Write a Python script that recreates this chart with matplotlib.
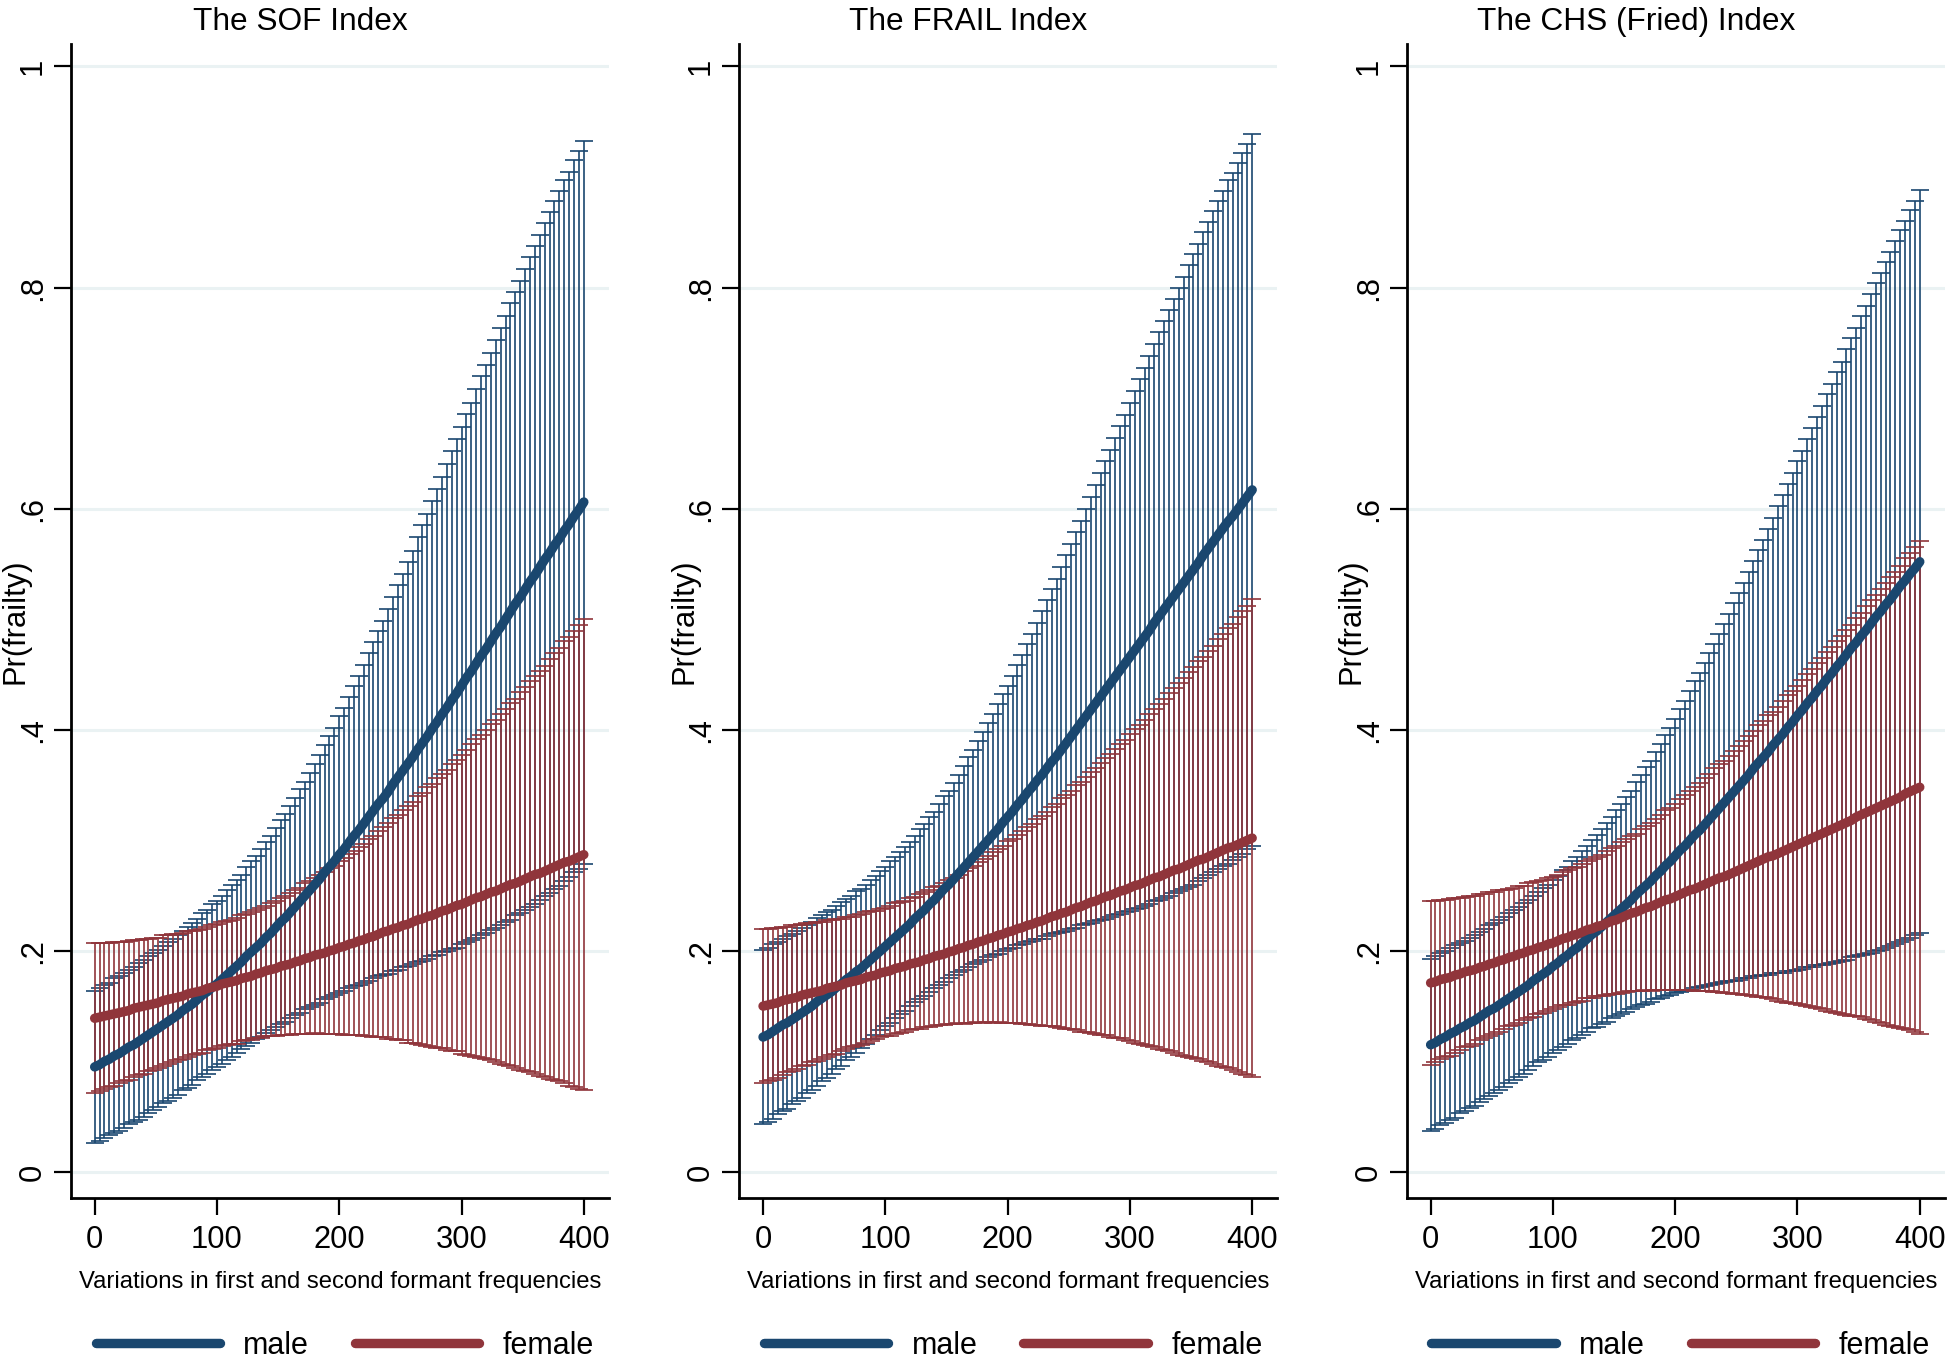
import numpy as np
import matplotlib
matplotlib.use("Agg")
import matplotlib.pyplot as plt
from matplotlib.lines import Line2D

plt.rcParams["font.family"] = ["Liberation Sans", "DejaVu Sans"]

# x grid of the margins (0 to 400 by 4)
x = np.arange(0, 401, 4)

panel_titles = ["The SOF Index", "The FRAIL Index", "The CHS (Fried) Index"]
xticks = [0, 100, 200, 300, 400]
yticks = [0, 0.2, 0.4, 0.6, 0.8, 1]
ytick_labels = ["0", ".2", ".4", ".6", ".8", "1"]
legend_labels = ["male", "female"]

# predicted Pr(frailty) and half width of the 95% CI
sof_male = [
    0.095, 0.097, 0.100, 0.102, 0.105, 0.107, 0.110, 0.113, 0.115, 0.118,
    0.121, 0.124, 0.127, 0.130, 0.133, 0.136, 0.139, 0.142, 0.146, 0.149,
    0.152, 0.156, 0.160, 0.163, 0.167, 0.170, 0.174, 0.178, 0.182, 0.186,
    0.190, 0.195, 0.199, 0.203, 0.207, 0.212, 0.216, 0.221, 0.226, 0.230,
    0.235, 0.240, 0.245, 0.250, 0.255, 0.260, 0.265, 0.271, 0.276, 0.281,
    0.287, 0.292, 0.298, 0.304, 0.309, 0.315, 0.321, 0.327, 0.333, 0.338,
    0.344, 0.351, 0.357, 0.363, 0.369, 0.375, 0.382, 0.388, 0.394, 0.401,
    0.407, 0.414, 0.420, 0.427, 0.433, 0.440, 0.447, 0.453, 0.460, 0.467,
    0.473, 0.480, 0.487, 0.493, 0.500, 0.507, 0.514, 0.520, 0.527, 0.534,
    0.540, 0.547, 0.554, 0.560, 0.567, 0.573, 0.580, 0.586, 0.593, 0.599,
    0.606]
sof_male_ci = [
    0.069, 0.069, 0.069, 0.069, 0.070, 0.070, 0.070, 0.070, 0.070, 0.071,
    0.071, 0.071, 0.071, 0.071, 0.071, 0.072, 0.072, 0.072, 0.072, 0.073,
    0.073, 0.073, 0.074, 0.074, 0.075, 0.075, 0.076, 0.077, 0.078, 0.078,
    0.079, 0.081, 0.082, 0.083, 0.085, 0.086, 0.088, 0.090, 0.092, 0.094,
    0.096, 0.098, 0.101, 0.103, 0.106, 0.109, 0.112, 0.115, 0.118, 0.121,
    0.125, 0.128, 0.132, 0.136, 0.140, 0.144, 0.148, 0.152, 0.156, 0.160,
    0.165, 0.169, 0.174, 0.178, 0.183, 0.187, 0.192, 0.197, 0.201, 0.206,
    0.211, 0.215, 0.220, 0.225, 0.230, 0.234, 0.239, 0.243, 0.248, 0.253,
    0.257, 0.261, 0.266, 0.270, 0.274, 0.279, 0.282, 0.286, 0.290, 0.294,
    0.298, 0.301, 0.304, 0.308, 0.311, 0.314, 0.317, 0.319, 0.322, 0.325,
    0.327]
sof_female = [
    0.139, 0.140, 0.141, 0.142, 0.143, 0.144, 0.145, 0.146, 0.148, 0.149,
    0.150, 0.151, 0.152, 0.153, 0.155, 0.156, 0.157, 0.158, 0.159, 0.161,
    0.162, 0.163, 0.164, 0.166, 0.167, 0.168, 0.170, 0.171, 0.172, 0.173,
    0.175, 0.176, 0.177, 0.179, 0.180, 0.182, 0.183, 0.184, 0.186, 0.187,
    0.188, 0.190, 0.191, 0.193, 0.194, 0.196, 0.197, 0.198, 0.200, 0.201,
    0.203, 0.204, 0.206, 0.207, 0.209, 0.210, 0.212, 0.213, 0.215, 0.217,
    0.218, 0.220, 0.221, 0.223, 0.224, 0.226, 0.228, 0.229, 0.231, 0.232,
    0.234, 0.236, 0.237, 0.239, 0.241, 0.242, 0.244, 0.246, 0.248, 0.249,
    0.251, 0.253, 0.254, 0.256, 0.258, 0.260, 0.261, 0.263, 0.265, 0.267,
    0.269, 0.270, 0.272, 0.274, 0.276, 0.278, 0.280, 0.281, 0.283, 0.285,
    0.287]
sof_female_ci = [
    0.068, 0.067, 0.066, 0.065, 0.065, 0.064, 0.063, 0.063, 0.062, 0.061,
    0.061, 0.060, 0.060, 0.059, 0.059, 0.058, 0.058, 0.057, 0.057, 0.057,
    0.056, 0.056, 0.056, 0.056, 0.056, 0.056, 0.056, 0.056, 0.056, 0.057,
    0.057, 0.057, 0.058, 0.058, 0.059, 0.059, 0.060, 0.061, 0.062, 0.063,
    0.064, 0.065, 0.066, 0.068, 0.069, 0.070, 0.072, 0.073, 0.075, 0.076,
    0.078, 0.080, 0.082, 0.083, 0.085, 0.087, 0.089, 0.091, 0.093, 0.095,
    0.098, 0.100, 0.102, 0.104, 0.107, 0.109, 0.112, 0.114, 0.117, 0.119,
    0.122, 0.124, 0.127, 0.130, 0.132, 0.135, 0.138, 0.141, 0.144, 0.146,
    0.149, 0.152, 0.155, 0.158, 0.161, 0.164, 0.167, 0.171, 0.174, 0.177,
    0.180, 0.183, 0.186, 0.190, 0.193, 0.196, 0.200, 0.203, 0.206, 0.210,
    0.213]

frail_male = [
    0.122, 0.124, 0.127, 0.130, 0.133, 0.135, 0.138, 0.141, 0.144, 0.147,
    0.150, 0.154, 0.157, 0.160, 0.163, 0.167, 0.170, 0.174, 0.177, 0.181,
    0.184, 0.188, 0.192, 0.196, 0.200, 0.204, 0.208, 0.212, 0.216, 0.220,
    0.224, 0.229, 0.233, 0.237, 0.242, 0.246, 0.251, 0.256, 0.260, 0.265,
    0.270, 0.275, 0.280, 0.285, 0.290, 0.295, 0.300, 0.305, 0.310, 0.316,
    0.321, 0.326, 0.332, 0.337, 0.343, 0.348, 0.354, 0.359, 0.365, 0.371,
    0.376, 0.382, 0.388, 0.394, 0.400, 0.406, 0.412, 0.418, 0.424, 0.430,
    0.436, 0.442, 0.448, 0.454, 0.460, 0.466, 0.472, 0.478, 0.484, 0.490,
    0.497, 0.503, 0.509, 0.515, 0.521, 0.527, 0.533, 0.539, 0.545, 0.551,
    0.558, 0.564, 0.570, 0.576, 0.582, 0.588, 0.593, 0.599, 0.605, 0.611,
    0.617]
frail_male_ci = [
    0.079, 0.079, 0.079, 0.078, 0.078, 0.078, 0.077, 0.077, 0.077, 0.076,
    0.076, 0.076, 0.075, 0.075, 0.074, 0.074, 0.074, 0.073, 0.073, 0.073,
    0.072, 0.072, 0.072, 0.072, 0.072, 0.072, 0.073, 0.073, 0.073, 0.074,
    0.074, 0.075, 0.077, 0.078, 0.079, 0.080, 0.082, 0.084, 0.085, 0.087,
    0.089, 0.092, 0.095, 0.097, 0.100, 0.103, 0.106, 0.109, 0.113, 0.116,
    0.119, 0.123, 0.127, 0.131, 0.135, 0.139, 0.143, 0.148, 0.152, 0.156,
    0.160, 0.165, 0.170, 0.174, 0.179, 0.183, 0.188, 0.193, 0.197, 0.202,
    0.207, 0.211, 0.216, 0.221, 0.225, 0.230, 0.234, 0.239, 0.243, 0.248,
    0.252, 0.257, 0.261, 0.265, 0.269, 0.273, 0.277, 0.281, 0.285, 0.288,
    0.292, 0.295, 0.299, 0.302, 0.305, 0.309, 0.311, 0.314, 0.317, 0.319,
    0.322]
frail_female = [
    0.150, 0.151, 0.152, 0.153, 0.155, 0.156, 0.157, 0.158, 0.160, 0.161,
    0.162, 0.163, 0.164, 0.166, 0.167, 0.168, 0.169, 0.171, 0.172, 0.173,
    0.174, 0.176, 0.177, 0.178, 0.180, 0.181, 0.182, 0.184, 0.185, 0.186,
    0.188, 0.189, 0.190, 0.192, 0.193, 0.195, 0.196, 0.197, 0.199, 0.200,
    0.202, 0.203, 0.205, 0.206, 0.208, 0.209, 0.211, 0.212, 0.214, 0.215,
    0.217, 0.218, 0.220, 0.221, 0.223, 0.224, 0.226, 0.227, 0.229, 0.231,
    0.232, 0.234, 0.235, 0.237, 0.239, 0.240, 0.242, 0.244, 0.245, 0.247,
    0.249, 0.250, 0.252, 0.254, 0.255, 0.257, 0.259, 0.260, 0.262, 0.264,
    0.266, 0.267, 0.269, 0.271, 0.273, 0.274, 0.276, 0.278, 0.280, 0.282,
    0.283, 0.285, 0.287, 0.289, 0.291, 0.293, 0.294, 0.296, 0.298, 0.300,
    0.302]
frail_female_ci = [
    0.070, 0.069, 0.069, 0.068, 0.067, 0.066, 0.066, 0.065, 0.064, 0.064,
    0.063, 0.063, 0.062, 0.062, 0.061, 0.061, 0.060, 0.060, 0.059, 0.059,
    0.059, 0.059, 0.059, 0.058, 0.058, 0.058, 0.059, 0.059, 0.059, 0.059,
    0.060, 0.060, 0.061, 0.061, 0.062, 0.063, 0.063, 0.064, 0.065, 0.066,
    0.067, 0.069, 0.070, 0.071, 0.072, 0.074, 0.075, 0.077, 0.078, 0.080,
    0.082, 0.083, 0.085, 0.087, 0.089, 0.091, 0.093, 0.095, 0.097, 0.099,
    0.101, 0.104, 0.106, 0.108, 0.111, 0.113, 0.115, 0.118, 0.120, 0.123,
    0.125, 0.128, 0.131, 0.133, 0.136, 0.139, 0.142, 0.144, 0.147, 0.150,
    0.153, 0.156, 0.159, 0.162, 0.165, 0.168, 0.171, 0.174, 0.177, 0.180,
    0.183, 0.186, 0.189, 0.193, 0.196, 0.199, 0.202, 0.206, 0.209, 0.212,
    0.216]

chs_male = [
    0.115, 0.117, 0.120, 0.122, 0.125, 0.127, 0.130, 0.132, 0.135, 0.137,
    0.140, 0.143, 0.146, 0.148, 0.151, 0.154, 0.157, 0.160, 0.163, 0.166,
    0.169, 0.173, 0.176, 0.179, 0.182, 0.186, 0.189, 0.193, 0.196, 0.200,
    0.203, 0.207, 0.211, 0.215, 0.218, 0.222, 0.226, 0.230, 0.234, 0.238,
    0.242, 0.246, 0.251, 0.255, 0.259, 0.263, 0.268, 0.272, 0.277, 0.281,
    0.286, 0.291, 0.295, 0.300, 0.305, 0.309, 0.314, 0.319, 0.324, 0.329,
    0.334, 0.339, 0.344, 0.349, 0.354, 0.359, 0.365, 0.370, 0.375, 0.380,
    0.386, 0.391, 0.396, 0.402, 0.407, 0.413, 0.418, 0.424, 0.429, 0.435,
    0.440, 0.446, 0.451, 0.457, 0.462, 0.468, 0.474, 0.479, 0.485, 0.490,
    0.496, 0.502, 0.507, 0.513, 0.518, 0.524, 0.530, 0.535, 0.541, 0.546,
    0.552]
chs_male_ci = [
    0.078, 0.078, 0.078, 0.078, 0.078, 0.078, 0.077, 0.077, 0.077, 0.077,
    0.077, 0.077, 0.077, 0.077, 0.077, 0.077, 0.077, 0.077, 0.077, 0.077,
    0.077, 0.077, 0.077, 0.078, 0.078, 0.078, 0.079, 0.080, 0.080, 0.081,
    0.082, 0.083, 0.084, 0.085, 0.087, 0.088, 0.090, 0.091, 0.093, 0.095,
    0.097, 0.099, 0.102, 0.104, 0.107, 0.109, 0.112, 0.115, 0.118, 0.121,
    0.124, 0.128, 0.131, 0.135, 0.139, 0.142, 0.146, 0.150, 0.154, 0.158,
    0.162, 0.166, 0.171, 0.175, 0.179, 0.184, 0.188, 0.193, 0.197, 0.202,
    0.206, 0.211, 0.216, 0.220, 0.225, 0.230, 0.234, 0.239, 0.244, 0.248,
    0.253, 0.258, 0.262, 0.267, 0.271, 0.276, 0.280, 0.284, 0.289, 0.293,
    0.298, 0.302, 0.306, 0.310, 0.314, 0.318, 0.322, 0.325, 0.329, 0.332,
    0.336]
chs_female = [
    0.171, 0.172, 0.174, 0.175, 0.176, 0.178, 0.179, 0.181, 0.182, 0.183,
    0.185, 0.186, 0.188, 0.189, 0.191, 0.192, 0.194, 0.195, 0.197, 0.198,
    0.200, 0.201, 0.203, 0.204, 0.206, 0.207, 0.209, 0.211, 0.212, 0.214,
    0.215, 0.217, 0.219, 0.220, 0.222, 0.223, 0.225, 0.227, 0.228, 0.230,
    0.232, 0.234, 0.235, 0.237, 0.239, 0.240, 0.242, 0.244, 0.246, 0.247,
    0.249, 0.251, 0.253, 0.255, 0.256, 0.258, 0.260, 0.262, 0.264, 0.266,
    0.267, 0.269, 0.271, 0.273, 0.275, 0.277, 0.279, 0.281, 0.283, 0.285,
    0.286, 0.288, 0.290, 0.292, 0.294, 0.296, 0.298, 0.300, 0.302, 0.304,
    0.306, 0.308, 0.310, 0.312, 0.314, 0.316, 0.318, 0.321, 0.323, 0.325,
    0.327, 0.329, 0.331, 0.333, 0.335, 0.337, 0.339, 0.342, 0.344, 0.346,
    0.348]
chs_female_ci = [
    0.074, 0.073, 0.072, 0.071, 0.071, 0.070, 0.069, 0.068, 0.068, 0.067,
    0.066, 0.065, 0.065, 0.064, 0.064, 0.063, 0.062, 0.062, 0.062, 0.061,
    0.061, 0.061, 0.060, 0.060, 0.060, 0.060, 0.060, 0.060, 0.061, 0.061,
    0.061, 0.062, 0.062, 0.063, 0.063, 0.064, 0.065, 0.066, 0.067, 0.068,
    0.069, 0.070, 0.071, 0.073, 0.074, 0.076, 0.077, 0.079, 0.081, 0.082,
    0.084, 0.086, 0.088, 0.090, 0.092, 0.094, 0.096, 0.098, 0.101, 0.103,
    0.105, 0.107, 0.110, 0.112, 0.115, 0.117, 0.120, 0.123, 0.125, 0.128,
    0.130, 0.133, 0.136, 0.139, 0.141, 0.144, 0.147, 0.150, 0.153, 0.156,
    0.159, 0.162, 0.165, 0.168, 0.171, 0.174, 0.177, 0.180, 0.183, 0.187,
    0.190, 0.193, 0.196, 0.200, 0.203, 0.206, 0.209, 0.213, 0.216, 0.219,
    0.223]

panels = [
    (sof_male, sof_male_ci, sof_female, sof_female_ci),
    (frail_male, frail_male_ci, frail_female, frail_female_ci),
    (chs_male, chs_male_ci, chs_female, chs_female_ci),
]

navy = "#1a476f"
maroon = "#90353b"
grid_col = "#eaf2f3"

fig = plt.figure(figsize=(9.76, 6.82), dpi=200)
lefts = [0.0364, 0.3788, 0.7208]

for i, (m, mci, f, fci) in enumerate(panels):
    ax = fig.add_axes([lefts[i], 0.1217, 0.2756, 0.846])

    ax.errorbar(x, m, yerr=mci, fmt="none", ecolor=navy, elinewidth=0.6,
                capsize=3.2, capthick=0.6, zorder=2)
    ax.errorbar(x, f, yerr=fci, fmt="none", ecolor=maroon, elinewidth=0.6,
                capsize=3.2, capthick=0.6, zorder=3)
    ax.plot(x, m, color=navy, lw=3.4, solid_capstyle="round", zorder=4)
    ax.plot(x, f, color=maroon, lw=3.4, solid_capstyle="round", zorder=5)

    ax.set_xlim(-19.3, 420.6)
    ax.set_ylim(-0.0236, 1.0203)
    ax.set_xticks(xticks)
    ax.set_xticklabels([str(t) for t in xticks], fontsize=11.1)
    ax.set_yticks(yticks)
    ax.set_yticklabels(ytick_labels, fontsize=11.1, rotation=90, va="center")
    ax.tick_params(axis="both", direction="out", length=6.1, width=0.8, color="black")
    ax.tick_params(axis="x", pad=3.5)
    ax.tick_params(axis="y", pad=2.3)

    ax.grid(axis="y", color=grid_col, lw=1.1)
    ax.set_axisbelow(True)
    for s in ["top", "right"]:
        ax.spines[s].set_visible(False)
    for s in ["left", "bottom"]:
        ax.spines[s].set_linewidth(1.0)

    ax.set_title(panel_titles[i], fontsize=11.4, x=0.4257, pad=5)
    ax.set_xlabel("Variations in first and second formant frequencies", fontsize=8.6, labelpad=6)
    ax.set_ylabel("Pr(frailty)", fontsize=11.1)
    ax.yaxis.set_label_coords(-0.075, 0.5)

    handles = [Line2D([], [], color=navy, lw=3.4, solid_capstyle="round"),
               Line2D([], [], color=maroon, lw=3.4, solid_capstyle="round")]
    ax.legend(handles, legend_labels, loc="center", bbox_to_anchor=(0.509, -0.128),
              ncol=2, frameon=False, fontsize=11, handlelength=4.07,
              handletextpad=0.77, columnspacing=1.5, borderpad=0)

plt.savefig("out.png", dpi=200)
